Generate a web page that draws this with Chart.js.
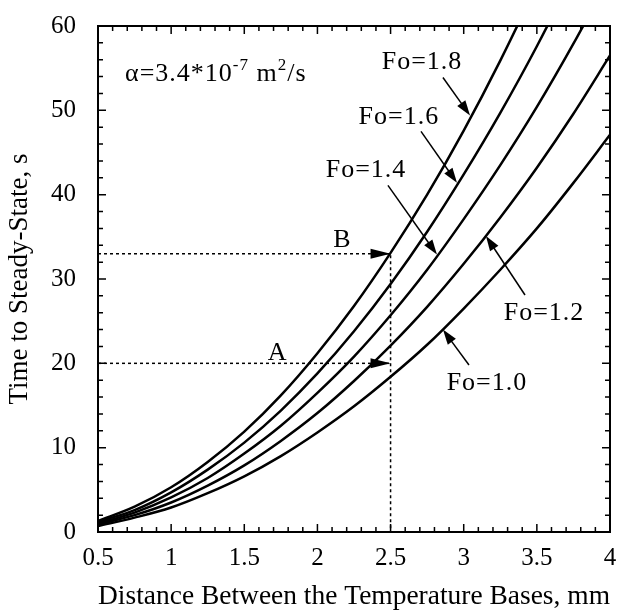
<!DOCTYPE html>
<html>
<head>
<meta charset="utf-8">
<script src="https://cdn.jsdelivr.net/npm/chart.js@4"></script>
<style>
    html, body { margin: 0; padding: 0; background: #fff; }
    canvas { display: block; }
</style>
</head>
<body>
<canvas id="steadyChart" width="617" height="611"></canvas>
<script>
// distance between the temperature bases, mm
const distance = [0.5, 0.75, 1, 1.25, 1.5, 1.75, 2, 2.25, 2.5, 2.75, 3, 3.25, 3.5, 3.75, 4];

// time to steady-state, s
const timeFo10 = [0.7, 1.7, 2.9, 4.6, 6.6, 9.0, 11.8, 14.9, 18.4, 22.2, 26.5, 31.1, 36.0, 41.4, 47.1];
const timeFo12 = [0.9, 2.0, 3.5, 5.5, 7.9, 10.8, 14.1, 17.9, 22.1, 26.7, 31.8, 37.3, 43.2, 49.6, 56.5];
const timeFo14 = [1.0, 2.3, 4.1, 6.4, 9.3, 12.6, 16.5, 20.8, 25.7, 31.1, 37.1, 43.5, 50.4, 57.9, 65.9];
const timeFo16 = [1.2, 2.6, 4.7, 7.4, 10.6, 14.4, 18.8, 23.8, 29.4, 35.6, 42.4, 49.7, 57.6, 66.2, 75.3];
const timeFo18 = [1.3, 3.0, 5.3, 8.3, 11.9, 16.2, 21.2, 26.8, 33.1, 40.0, 47.6, 55.9, 64.9, 74.4, 84.7];

// reading lines A and B
const guideB = [{x: 0.5, y: 33}, {x: 2.5, y: 33}, {x: 2.5, y: 0}];
const guideA = [{x: 0.5, y: 20}, {x: 2.5, y: 20}];

// curve labels: text position, arrow tail, arrow tip (data units)
const foLabels = [
    {text: "Fo=1.8", at: [2.715, 55.7], from: [2.858, 53.9], to: [3.043, 49.4]},
    {text: "Fo=1.6", at: [2.557, 49.2], from: [2.708, 47.5], to: [2.954, 41.4]},
    {text: "Fo=1.4", at: [2.332, 42.9], from: [2.482, 41.1], to: [2.817, 32.9]},
    {text: "Fo=1.2", at: [3.549, 26.0], from: [3.419, 28.1], to: [3.152, 35.1]},
    {text: "Fo=1.0", at: [3.159, 17.7], from: [3.036, 19.8], to: [2.858, 24.0]}
];

const SERIF = "'Liberation Serif', 'Times New Roman', serif";

function toXY(chart, p) {
    return [chart.scales.x.getPixelForValue(p[0]), chart.scales.y.getPixelForValue(p[1])];
}

function arrow(ctx, x1, y1, x2, y2, len, half) {
    const ang = Math.atan2(y2 - y1, x2 - x1);
    ctx.beginPath();
    ctx.moveTo(x1, y1);
    ctx.lineTo(x2 - Math.cos(ang) * len * 0.6, y2 - Math.sin(ang) * len * 0.6);
    ctx.stroke();
    ctx.beginPath();
    ctx.moveTo(x2, y2);
    ctx.lineTo(x2 - Math.cos(ang) * len - Math.sin(ang) * half, y2 - Math.sin(ang) * len + Math.cos(ang) * half);
    ctx.lineTo(x2 - Math.cos(ang) * len + Math.sin(ang) * half, y2 - Math.sin(ang) * len - Math.cos(ang) * half);
    ctx.closePath();
    ctx.fill();
}

const decorPlugin = {
    id: "decor",
    afterDatasetsDraw(chart) {
        const ctx = chart.ctx;
        const {left, right, top, bottom} = chart.chartArea;
        const xs = chart.scales.x, ys = chart.scales.y;
        ctx.save();
        ctx.strokeStyle = "#000";
        ctx.fillStyle = "#000";

        // frame
        ctx.lineWidth = 2;
        ctx.strokeRect(left, top, right - left, bottom - top);

        // inward ticks on all four sides
        ctx.lineWidth = 1.5;
        for (let i = 0; i <= 35; i++) {
            const v = 0.5 + i * 0.1;
            const px = xs.getPixelForValue(v);
            const len = i % 5 === 0 ? 8 : 5;
            ctx.beginPath();
            ctx.moveTo(px, bottom); ctx.lineTo(px, bottom - len);
            ctx.moveTo(px, top); ctx.lineTo(px, top + len);
            ctx.stroke();
        }
        for (let i = 0; i <= 30; i++) {
            const py = ys.getPixelForValue(i * 2);
            const len = i % 5 === 0 ? 8 : 5;
            ctx.beginPath();
            ctx.moveTo(left, py); ctx.lineTo(left + len, py);
            ctx.moveTo(right, py); ctx.lineTo(right - len, py);
            ctx.stroke();
        }

        // arrowheads on the reading lines
        const b = toXY(chart, [2.5, 33]);
        const a = toXY(chart, [2.5, 20]);
        [b, a].forEach(p => {
            ctx.beginPath();
            ctx.moveTo(p[0], p[1]);
            ctx.lineTo(p[0] - 20, p[1] - 5);
            ctx.lineTo(p[0] - 20, p[1] + 5);
            ctx.closePath();
            ctx.fill();
        });

        // text
        ctx.font = "26px " + SERIF;
        ctx.textAlign = "center";
        ctx.textBaseline = "middle";
        let p = toXY(chart, [1.724, 21.2]);
        ctx.fillText("A", p[0], p[1]);
        p = toXY(chart, [2.168, 34.6]);
        ctx.fillText("B", p[0], p[1]);

        ctx.lineWidth = 1.5;
        ctx.letterSpacing = "1px";
        foLabels.forEach(lab => {
            const t = toXY(chart, lab.at);
            ctx.fillText(lab.text, t[0], t[1]);
            const f = toXY(chart, lab.from);
            const e = toXY(chart, lab.to);
            arrow(ctx, f[0], f[1], e[0], e[1], 15, 5);
        });

        // diffusivity note
        p = toXY(chart, [0.685, 54.5]);
        ctx.textAlign = "left";
        ctx.textBaseline = "alphabetic";
        let x = p[0];
        const base = p[1] + 9;
        const parts = [
            ["\u03b1=3.4*10", 26, 0],
            ["-7", 17, -11],
            [" m", 26, 0],
            ["2", 17, -11],
            ["/s", 26, 0]
        ];
        parts.forEach(part => {
            ctx.font = part[1] + "px " + SERIF;
            ctx.fillText(part[0], x, base + part[2]);
            x += ctx.measureText(part[0]).width;
        });
        ctx.letterSpacing = "0px";

        ctx.restore();
    }
};

function curve(values) {
    return {
        data: distance.map((d, i) => ({x: d, y: values[i]})),
        borderColor: "#000",
        borderWidth: 2.5,
        pointRadius: 0,
        fill: false,
        cubicInterpolationMode: "monotone"
    };
}

function guide(points) {
    return {
        data: points,
        borderColor: "#000",
        borderWidth: 1.5,
        borderDash: [3, 3],
        pointRadius: 0,
        fill: false,
        tension: 0
    };
}

new Chart(document.getElementById("steadyChart"), {
    type: "line",
    data: {
        datasets: [
            curve(timeFo10),
            curve(timeFo12),
            curve(timeFo14),
            curve(timeFo16),
            curve(timeFo18),
            guide(guideB),
            guide(guideA)
        ]
    },
    options: {
        responsive: false,
        animation: false,
        layout: {padding: {left: 0, right: 7, top: 26, bottom: 0}},
        plugins: {
            legend: {display: false},
            tooltip: {enabled: false}
        },
        scales: {
            x: {
                type: "linear",
                min: 0.5,
                max: 4,
                afterFit(scale) {
                    scale.height = 79;
                    scale.paddingLeft = 0;
                    scale.paddingRight = 0;
                },
                grid: {display: false},
                border: {display: false},
                ticks: {
                    stepSize: 0.5,
                    padding: 3,
                    color: "#000",
                    font: {family: SERIF, size: 25},
                    callback: v => String(v)
                },
                title: {
                    display: true,
                    text: "Distance Between the Temperature Bases, mm",
                    color: "#000",
                    padding: 0,
                    font: {family: SERIF, size: 28, lineHeight: 1}
                }
            },
            y: {
                min: 0,
                max: 60,
                afterFit(scale) {
                    scale.width = 98;
                    scale.paddingTop = 0;
                    scale.paddingBottom = 0;
                },
                grid: {display: false},
                border: {display: false},
                ticks: {
                    stepSize: 10,
                    padding: 14,
                    color: "#000",
                    font: {family: SERIF, size: 25}
                },
                title: {
                    display: true,
                    text: "Time to Steady-State, s",
                    color: "#000",
                    padding: 6,
                    font: {family: SERIF, size: 27, lineHeight: 1}
                }
            }
        }
    },
    plugins: [decorPlugin]
});
</script>
</body>
</html>
